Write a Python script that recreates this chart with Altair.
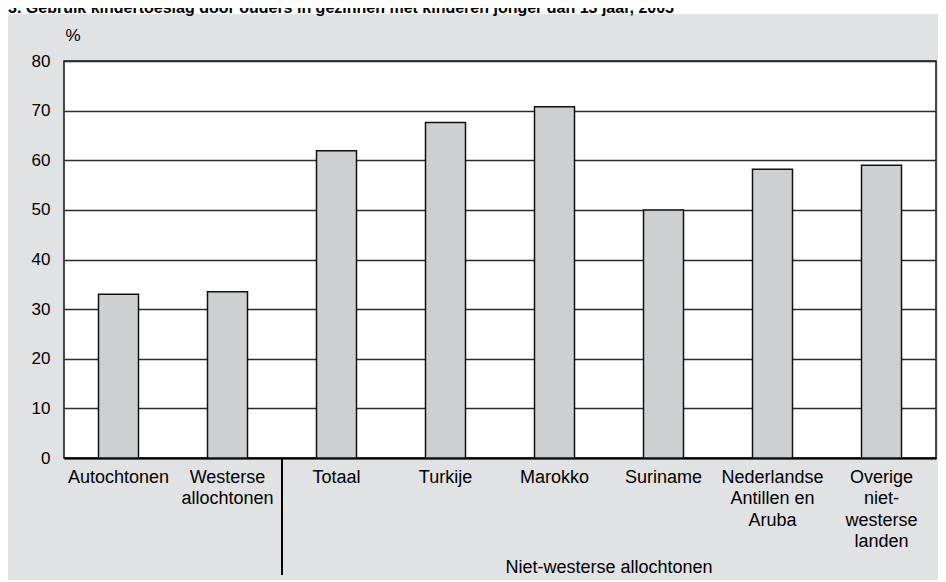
import json
import altair as alt
import pandas as pd

# ---- data ----
categories = [
    "Autochtonen",
    "Westerse allochtonen",
    "Totaal",
    "Turkije",
    "Marokko",
    "Suriname",
    "Nederlandse Antillen en Aruba",
    "Overige niet-westerse landen",
]
values = [33.0, 33.5, 61.9, 67.6, 70.8, 50.0, 58.2, 59.0]
label_lines = [
    ["Autochtonen"],
    ["Westerse", "allochtonen"],
    ["Totaal"],
    ["Turkije"],
    ["Marokko"],
    ["Suriname"],
    ["Nederlandse", "Antillen en", "Aruba"],
    ["Overige", "niet-", "westerse", "landen"],
]
y_ticks = [0, 10, 20, 30, 40, 50, 60, 70, 80]
title_text = "3.  Gebruik kindertoeslag door ouders in gezinnen met kinderen jonger dan 13 jaar, 2005"
group_label = "Niet-westerse allochtonen"
unit_label = "%"

df = pd.DataFrame({"cat": categories, "val": values})

# ---- layout ----
W, H = 872, 397
PAD_L, PAD_T, PAD_R, PAD_B = 56, 53, 2, 122
N = len(categories)
step = W / N
FONT = "Liberation Sans"
FS = 18
BG = "#e1e2e4"

label_expr = " : ".join(
    f"datum.value == {json.dumps(c)} ? {json.dumps(l)}" for c, l in zip(categories, label_lines)
) + " : datum.label"

pad_inner = 1 - 40 / step

bars = alt.Chart(df).mark_bar(
    fill="#cecfd1", stroke="#111111", strokeWidth=1.5
).encode(
    x=alt.X(
        "cat:N",
        sort=categories,
        title=None,
        scale=alt.Scale(paddingInner=pad_inner, paddingOuter=pad_inner / 2),
        axis=alt.Axis(
            labelAngle=0,
            labelExpr=label_expr,
            labelFont=FONT,
            labelFontSize=FS,
            labelColor="#000000",
            labelLineHeight=21.5,
            labelPadding=10,
            labelBaseline="top",
            ticks=False,
            domain=True,
            domainColor="#000000",
            domainWidth=2,
            grid=False,
        ),
    ),
    y=alt.Y(
        "val:Q",
        title=unit_label,
        scale=alt.Scale(domain=[0, 80], nice=False),
        axis=alt.Axis(
            values=y_ticks,
            labelFont=FONT,
            labelFontSize=FS - 1,
            labelColor="#000000",
            labelPadding=14,
            ticks=False,
            tickSize=0,
            domain=False,
            grid=True,
            gridColor="#2a2a2a",
            gridWidth=1.3,
            titleAngle=0,
            titleAlign="left",
            titleBaseline="middle",
            titleX=1,
            titleY=-26,
            titleFont=FONT,
            titleFontSize=FS - 1,
            titleFontWeight="normal",
            titleColor="#000000",
        ),
    ),
)

one = alt.Data(values=[{}])

strip = alt.Chart(one).mark_rect(fill="white").encode(
    x=alt.value(-PAD_L), x2=alt.value(W + PAD_R),
    y=alt.value(-PAD_T), y2=alt.value(-PAD_T + 6),
)

title = alt.Chart(one).mark_text(
    align="left", baseline="alphabetic", font=FONT, fontSize=16, fontWeight="bold", color="#000000"
).encode(x=alt.value(-PAD_L), y=alt.value(-PAD_T + 5), text=alt.value(title_text))

sep = alt.Chart(one).mark_rule(color="#000000", strokeWidth=2).encode(
    x=alt.value(2 * step), y=alt.value(H), y2=alt.value(H + 117)
)

group = alt.Chart(one).mark_text(
    align="center", baseline="middle", font=FONT, fontSize=FS, color="#000000"
).encode(x=alt.value(step * (2 + N) / 2), y=alt.value(H + 110), text=alt.value(group_label))

chart = alt.layer(strip, title, bars, sep, group).properties(
    width=W,
    height=H,
    padding={"left": PAD_L, "top": PAD_T, "right": PAD_R, "bottom": PAD_B},
    autosize=alt.AutoSizeParams(type="none"),
    background=BG,
).configure_view(
    fill="white", stroke="#111111", strokeWidth=1.5
)

chart.save("out.html", embed_options={"renderer": "svg", "actions": False})
